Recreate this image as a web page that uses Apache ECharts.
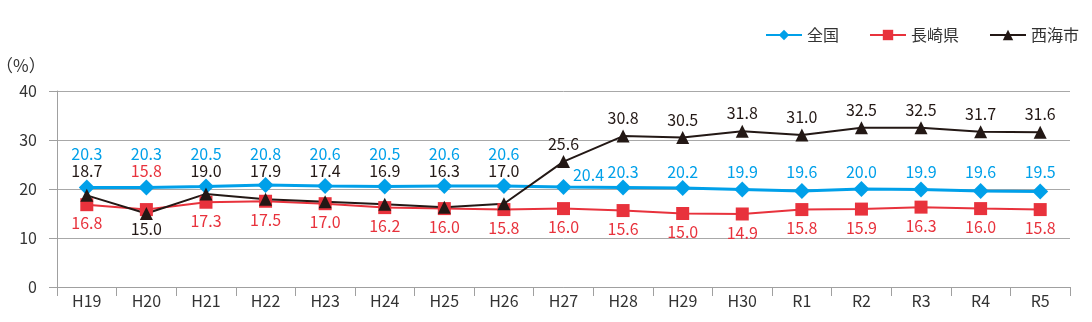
<!DOCTYPE html>
<html>
<head>
<meta charset="utf-8">
<script src="https://cdn.jsdelivr.net/npm/echarts@6/dist/echarts.min.js"></script>
<style>
  html, body { margin: 0; padding: 0; background: #fff; }
  #chart { width: 1092px; height: 322px; }
</style>
</head>
<body>
<div id="chart"></div>
<script>
// 年度
const categories = ['H19','H20','H21','H22','H23','H24','H25','H26','H27','H28','H29','H30','R1','R2','R3','R4','R5'];
// 全国 / 長崎県 / 西海市 (%)
const national = [20.3,20.3,20.5,20.8,20.6,20.5,20.6,20.6,20.4,20.3,20.2,19.9,19.6,20.0,19.9,19.6,19.5];
const nagasaki = [16.8,15.8,17.3,17.5,17.0,16.2,16.0,15.8,16.0,15.6,15.0,14.9,15.8,15.9,16.3,16.0,15.8];
const saikai   = [18.7,15.0,19.0,17.9,17.4,16.9,16.3,17.0,25.6,30.8,30.5,31.8,31.0,32.5,32.5,31.7,31.6];
const yTicks = [0,10,20,30,40];

const FONT = '"Noto Sans CJK JP", "Noto Sans", sans-serif';
const C_BLUE = '#00a0e9', C_RED = '#e8323c', C_BLACK = '#231815';

const GRID = { left: 57, right: 22, top: 91, bottom: 35 };
const CHART_H = 322;
const yMin = yTicks[0], yMax = yTicks[yTicks.length - 1];
const pxPerUnit = (CHART_H - GRID.top - GRID.bottom) / (yMax - yMin);
const FONT_SIZE = 16;
const HALF_TEXT = FONT_SIZE / 2;

// symbol sizes
const SYM = { national: 16, nagasaki: 13, saikai: 13 };

// label distance that puts the label's centre at value-level `row`
function rowDistance(row, v, sym) {
  return Math.max(0, (row - v) * pxPerUnit - sym / 2 - HALF_TEXT);
}

// from H27 on, 西海市 rises above 全国 and labels are rearranged
const splitIdx = categories.indexOf('H27');
const ROW_NATIONAL_EARLY = 27.2;   // 全国 label row, H19–H26
const ROW_NATIONAL_LATE = 23.4;    // 全国 label row, H28–
const ROW_SECOND = 23.6;           // 西海市 (and 長崎県 H20) label row, H19–H26

function labelFor(series, i, v) {
  if (series === 'national') {
    if (i < splitIdx) return { position: 'top', distance: rowDistance(ROW_NATIONAL_EARLY, v, SYM.national) };
    if (i === splitIdx) return { position: 'top', distance: 0, offset: [25, 4] };
    return { position: 'top', distance: rowDistance(ROW_NATIONAL_LATE, v, SYM.national) };
  }
  if (series === 'nagasaki') {
    if (saikai[i] < v) return { position: 'top', distance: rowDistance(ROW_SECOND, v, SYM.nagasaki) };
    return { position: 'bottom', distance: 4 };
  }
  if (v < nagasaki[i]) return { position: 'bottom', distance: 1 };
  if (i < splitIdx) return { position: 'top', distance: rowDistance(ROW_SECOND, v, SYM.saikai) };
  return { position: 'top', distance: 3.5 };
}

function build(values, key) {
  return values.map((v, i) => ({ value: v, label: labelFor(key, i, v) }));
}

const labelBase = (color) => ({
  show: true, color: color, fontSize: FONT_SIZE, fontFamily: FONT,
  formatter: p => p.value.toFixed(1)
});

const chart = echarts.init(document.getElementById('chart'), null, { renderer: 'canvas' });
chart.setOption({
  animation: false,
  backgroundColor: '#fff',
  grid: GRID,
  legend: {
    right: 8, top: 22, itemGap: 30, itemWidth: 36, itemHeight: 13,
    textStyle: { fontFamily: FONT, fontSize: 16, color: '#333' },
    data: ['全国', '長崎県', '西海市']
  },
  graphic: [{
    type: 'text', left: -4, top: 57,
    style: { text: '（%）', fontFamily: FONT, fontSize: 17, fill: '#333' }
  }],
  xAxis: {
    type: 'category', data: categories, boundaryGap: true,
    axisLine: { lineStyle: { color: '#a0a0a0', width: 1 } },
    axisTick: { show: true, length: 9, lineStyle: { color: '#a0a0a0' } },
    axisLabel: { color: '#333', fontSize: 16, fontFamily: FONT, margin: 6 }
  },
  yAxis: {
    type: 'value', min: yMin, max: yMax, interval: 10,
    axisLine: { show: true, lineStyle: { color: '#a0a0a0' } },
    axisTick: { show: true, length: 8, lineStyle: { color: '#a0a0a0' } },
    axisLabel: { color: '#333', fontSize: 16, fontFamily: FONT, margin: 20 },
    splitLine: { lineStyle: { color: '#a8a8a8', width: 1 } }
  },
  series: [
    {
      name: '全国', type: 'line', data: build(national, 'national'),
      symbol: 'diamond', symbolSize: SYM.national,
      lineStyle: { color: C_BLUE, width: 3 }, itemStyle: { color: C_BLUE },
      label: labelBase(C_BLUE)
    },
    {
      name: '長崎県', type: 'line', data: build(nagasaki, 'nagasaki'),
      symbol: 'rect', symbolSize: SYM.nagasaki,
      lineStyle: { color: C_RED, width: 2 }, itemStyle: { color: C_RED },
      label: labelBase(C_RED)
    },
    {
      name: '西海市', type: 'line', data: build(saikai, 'saikai'),
      symbol: 'triangle', symbolSize: SYM.saikai,
      lineStyle: { color: C_BLACK, width: 2 }, itemStyle: { color: C_BLACK },
      label: labelBase(C_BLACK)
    }
  ]
});
</script>
</body>
</html>
